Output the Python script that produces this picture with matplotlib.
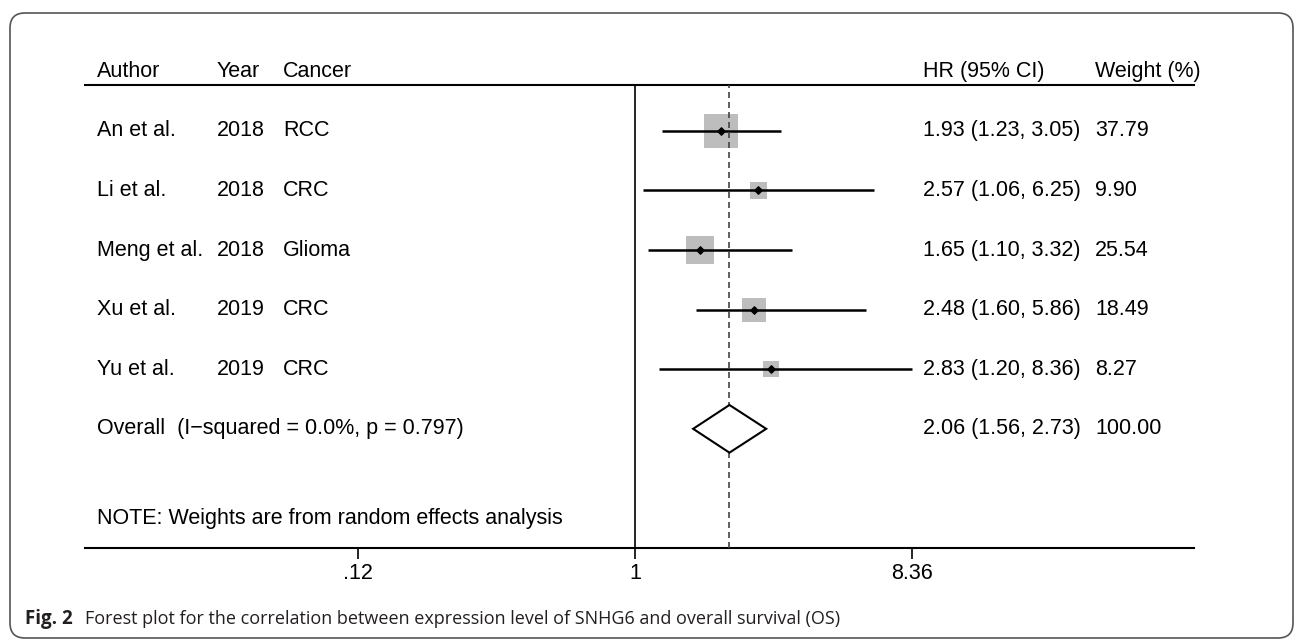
import numpy as np
import matplotlib as mpl
mpl.use('Agg')
import matplotlib.pyplot as plt
import matplotlib.transforms as mtransforms
from matplotlib.patches import FancyBboxPatch, Polygon

authors = ["An et al.", "Li et al.", "Meng et al.", "Xu et al.", "Yu et al."]
years = ["2018", "2018", "2018", "2019", "2019"]
cancers = ["RCC", "CRC", "Glioma", "CRC", "CRC"]
hr = [1.93, 2.57, 1.65, 2.48, 2.83]
ci_lo = [1.23, 1.06, 1.10, 1.60, 1.20]
ci_hi = [3.05, 6.25, 3.32, 5.86, 8.36]
weights = [37.79, 9.90, 25.54, 18.49, 8.27]
overall_hr, overall_lo, overall_hi = 2.06, 1.56, 2.73
overall_label = "Overall  (I\u2212squared = 0.0%, p = 0.797)"
note = "NOTE: Weights are from random effects analysis"
xticks = [0.12, 1, 8.36]
xtick_labels = [".12", "1", "8.36"]

W, H = 1296, 640
plt.rcParams['font.family'] = ['Liberation Sans', 'DejaVu Sans']
fig = plt.figure(figsize=(W / 100, H / 100), dpi=100)

# axes spans from header rule (y=85px) to the x axis (y=548px)
ax = fig.add_axes([85 / W, 1 - 548 / H, (1194 - 85) / W, (548 - 85) / H])
ax.set_xscale('log')
ax.set_xlim(0.0148, 72.3)
ax.set_ylim(7.0, -0.77)

for s in ['left', 'right']:
    ax.spines[s].set_visible(False)
for s in ['top', 'bottom']:
    ax.spines[s].set_linewidth(1.5)
ax.set_yticks([])
ax.set_xticks(xticks)
ax.set_xticklabels(xtick_labels, fontsize=15.5)
ax.xaxis.set_minor_locator(mpl.ticker.NullLocator())
ax.tick_params(axis='x', direction='out', length=8, width=1.2, pad=3)

ax.axvline(1, color='black', lw=1.2, zorder=1)
ax.axvline(overall_hr, color='#444444', lw=1.2, ls=(0, (3.6, 2.4)), zorder=4)

rows = np.arange(len(hr))
ax.hlines(rows, ci_lo, ci_hi, color='black', lw=1.8, zorder=3)
ax.scatter(hr, rows, s=np.array(weights) * 15.9, marker='s', color='#bdbdbd',
           linewidths=0, zorder=2)
ax.scatter(hr, rows, s=14, marker='D', color='black', zorder=5)

yo = len(hr)
diamond = Polygon([(overall_lo, yo), (overall_hr, yo - 0.4), (overall_hi, yo),
                   (overall_hr, yo + 0.4)], closed=True, facecolor='white',
                  edgecolor='black', lw=1.5, zorder=5)
ax.add_patch(diamond)

# text columns: x in figure pixels, y in data rows
tr = mtransforms.blended_transform_factory(fig.transFigure, ax.transData)
col_x = {'author': 97, 'year': 217, 'cancer': 283, 'hr': 923, 'weight': 1095}
fs = 15.5
kw = dict(transform=tr, fontsize=fs, va='center', ha='left', clip_on=False)

ax.text(col_x['author'] / W, -1.0, "Author", **kw)
ax.text(col_x['year'] / W, -1.0, "Year", **kw)
ax.text(col_x['cancer'] / W, -1.0, "Cancer", **kw)
ax.text(col_x['hr'] / W, -1.0, "HR (95% CI)", **kw)
ax.text(col_x['weight'] / W, -1.0, "Weight (%)", **kw)

for i in rows:
    ax.text(col_x['author'] / W, i, authors[i], **kw)
    ax.text(col_x['year'] / W, i, years[i], **kw)
    ax.text(col_x['cancer'] / W, i, cancers[i], **kw)
    ax.text(col_x['hr'] / W, i, f"{hr[i]:.2f} ({ci_lo[i]:.2f}, {ci_hi[i]:.2f})", **kw)
    ax.text(col_x['weight'] / W, i, f"{weights[i]:.2f}", **kw)

ax.text(col_x['author'] / W, yo, overall_label, **kw)
ax.text(col_x['hr'] / W, yo, f"{overall_hr:.2f} ({overall_lo:.2f}, {overall_hi:.2f})", **kw)
ax.text(col_x['weight'] / W, yo, "100.00", **kw)
ax.text(col_x['author'] / W, 6.5, note, **kw)

# caption
fig.text(25 / W, 1 - 619 / H, "Fig. 2", fontsize=13.5, fontweight='bold',
         family=['Open Sans', 'DejaVu Sans'], color='#231f20', va='center')
fig.text(85 / W, 1 - 619 / H,
         "Forest plot for the correlation between expression level of SNHG6 and overall survival (OS)",
         fontsize=13, family=['Open Sans', 'DejaVu Sans'], color='#231f20', va='center')

# rounded frame
frame = FancyBboxPatch((10 / 100, 2 / 100), (1293 - 10) / 100, (627 - 2) / 100,
                       boxstyle="round,pad=0,rounding_size=0.15",
                       transform=fig.dpi_scale_trans, fill=False,
                       edgecolor='#555555', lw=1.2)
fig.patches.append(frame)

fig.savefig('out.png', dpi=100)
